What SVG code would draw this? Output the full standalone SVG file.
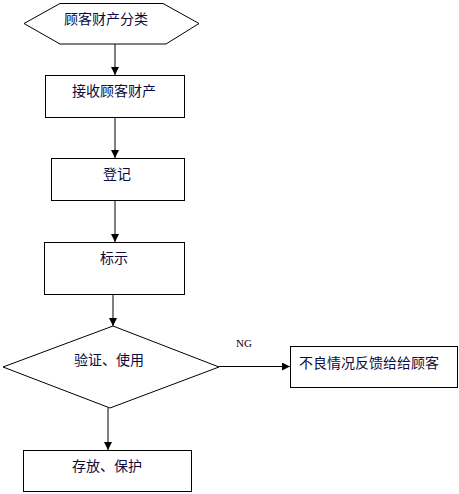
<svg xmlns="http://www.w3.org/2000/svg" width="459" height="494" viewBox="0 0 459 494">
<defs>
<marker id="ah" viewBox="0 0 8 8" refX="8" refY="4" markerWidth="8" markerHeight="8" markerUnits="userSpaceOnUse" orient="auto">
<path d="M0,0 L8,4 L0,8 Z" fill="#000"/>
</marker>
<style>
.s{fill:#fff;stroke:#000;stroke-width:1}
.t{font-family:"Noto Sans CJK SC","Liberation Sans",sans-serif;font-size:14px;fill:#0a0a3c;text-anchor:middle;dominant-baseline:central}
.c{fill:none;stroke:#000;stroke-width:1}
.n{font-family:"Liberation Serif",serif;font-size:11px;fill:#000}
</style>
</defs>
<rect width="459" height="494" fill="#fff"/>
<g id="connectors">
<line class="c" x1="115" y1="44" x2="115" y2="75" marker-end="url(#ah)"/>
<line class="c" x1="115" y1="117" x2="115" y2="158" marker-end="url(#ah)"/>
<line class="c" x1="115" y1="200" x2="115" y2="242" marker-end="url(#ah)"/>
<line class="c" x1="113" y1="294" x2="113" y2="326" marker-end="url(#ah)"/>
<line class="c" x1="108" y1="408" x2="108" y2="450" marker-end="url(#ah)"/>
<line class="c" x1="219" y1="366.5" x2="290" y2="366.5" marker-end="url(#ah)"/>
<text class="n" x="236" y="347">NG</text>
</g>
<g id="n1">
<polygon class="s" points="24,23.5 60,3.5 163,3.5 199,23.5 166,44 60,44"/>
<text class="t" x="106" y="18">顾客财产分类</text>
</g>
<g id="n2">
<rect class="s" x="45.5" y="75.5" width="139" height="42"/>
<text class="t" x="114" y="90">接收顾客财产</text>
</g>
<g id="n3">
<rect class="s" x="51.5" y="158.5" width="133" height="42"/>
<text class="t" x="117" y="173">登记</text>
</g>
<g id="n4">
<rect class="s" x="44.5" y="242.5" width="140" height="52"/>
<text class="t" x="114" y="257">标示</text>
</g>
<g id="n5">
<polygon class="s" points="113,326 219,367 110,408 3,367"/>
<text class="t" x="109" y="359">验证、使用</text>
</g>
<g id="n6">
<rect class="s" x="23.5" y="450.5" width="168" height="41"/>
<text class="t" x="107" y="465">存放、保护</text>
</g>
<g id="n7">
<rect class="s" x="290.5" y="346.5" width="167" height="41"/>
<text class="t" x="369" y="362">不良情况反馈给给顾客</text>
</g>
</svg>
